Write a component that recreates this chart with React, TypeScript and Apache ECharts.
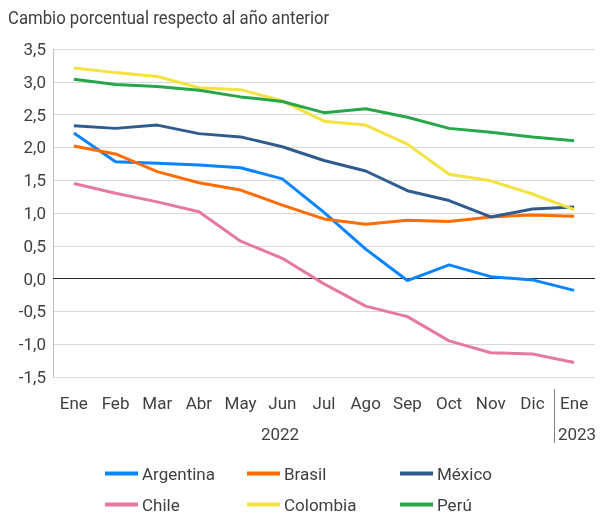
import React, { useEffect, useRef } from "react";
import * as echarts from "echarts";

const categories = ["Ene", "Feb", "Mar", "Abr", "May", "Jun", "Jul", "Ago", "Sep", "Oct", "Nov", "Dic", "Ene"];
const argentina = [2.22, 1.78, 1.76, 1.73, 1.69, 1.52, 1.01, 0.45, -0.03, 0.21, 0.03, -0.02, -0.18];
const brasil = [2.02, 1.9, 1.63, 1.46, 1.35, 1.12, 0.91, 0.83, 0.89, 0.87, 0.94, 0.97, 0.95];
const mexico = [2.33, 2.29, 2.34, 2.21, 2.16, 2.01, 1.8, 1.64, 1.34, 1.19, 0.94, 1.06, 1.09];
const chile = [1.45, 1.3, 1.17, 1.02, 0.57, 0.31, -0.08, -0.42, -0.58, -0.95, -1.13, -1.15, -1.28];
const colombia = [3.21, 3.14, 3.08, 2.91, 2.88, 2.71, 2.4, 2.34, 2.05, 1.59, 1.49, 1.29, 1.05];
const peru = [3.04, 2.96, 2.93, 2.87, 2.77, 2.7, 2.53, 2.59, 2.46, 2.29, 2.23, 2.16, 2.1];

const seriesNames = ["Argentina", "Brasil", "México", "Chile", "Colombia", "Perú"];
const seriesData = [argentina, brasil, mexico, chile, colombia, peru];
const colors = ["#0a85ff", "#ff6d00", "#2f5b8f", "#e67a9c", "#f3e23f", "#27a64a"];

const FONT = "Roboto";
const TEXT = "#404040";
const FS = 17;

export default function App() {
  const ref = useRef<HTMLDivElement>(null);
  useEffect(() => {
    if (!ref.current) return;
    const chart = echarts.init(ref.current, undefined, { renderer: "svg" });
    const legendPos = [
      [105, 465], [247, 465], [400, 465],
      [105, 496], [247, 496], [400, 496],
    ];
    chart.setOption({
      animation: false,
      grid: { left: 53, right: 8, top: 49, bottom: 137 },
      xAxis: {
        type: "category",
        data: categories,
        boundaryGap: true,
        axisLine: { show: false },
        axisTick: { show: false },
        axisLabel: { fontFamily: FONT, fontSize: FS, color: TEXT, margin: 17, interval: 0 },
      },
      yAxis: {
        type: "value",
        min: -1.5,
        max: 3.5,
        interval: 0.5,
        axisLine: { show: true, lineStyle: { color: "#bfbfbf", width: 1 } },
        axisTick: { show: false },
        splitLine: { lineStyle: { color: "#d9d9d9", width: 1 } },
        axisLabel: {
          fontFamily: FONT,
          fontSize: FS,
          color: TEXT,
          margin: 7,
          formatter: (v: number) => v.toFixed(1).replace(".", ","),
        },
      },
      legend: seriesNames.map((n, i) => ({
        data: [n],
        left: legendPos[i][0],
        top: legendPos[i][1],
        icon: "rect",
        itemWidth: 33,
        itemHeight: 4,
        itemGap: 4,
        padding: 0,
        textStyle: { fontFamily: FONT, fontSize: FS, color: TEXT, padding: [0, 0, 0, -1] },
      })),
      series: seriesNames.map((n, i) => ({
        name: n,
        type: "line",
        data: seriesData[i],
        symbol: "none",
        lineStyle: { width: 3, color: colors[i] },
        itemStyle: { color: colors[i] },
        z: 3 + i,
        markLine:
          i === 0
            ? {
                silent: true,
                symbol: "none",
                label: { show: false },
                lineStyle: { color: "#262626", width: 1, type: "solid" },
                data: [{ yAxis: 0 }],
                z: 1,
              }
            : undefined,
      })),
      graphic: [
        {
          type: "text",
          x: 8,
          y: 18,
          scaleX: 0.93,
          style: {
            text: "Cambio porcentual respecto al año anterior",
            fontFamily: FONT,
            fontSize: 18,
            fill: TEXT,
            verticalAlign: "middle",
          },
        },
        {
          type: "text",
          x: 280,
          y: 434,
          style: { text: "2022", fontFamily: FONT, fontSize: FS, fill: TEXT, align: "center", verticalAlign: "middle" },
        },
        {
          type: "text",
          x: 577,
          y: 434,
          style: { text: "2023", fontFamily: FONT, fontSize: FS, fill: TEXT, align: "center", verticalAlign: "middle" },
        },
        {
          type: "line",
          shape: { x1: 554.5, y1: 389, x2: 554.5, y2: 443 },
          style: { stroke: "#7f7f7f", lineWidth: 1 },
        },
      ],
    });
    return () => chart.dispose();
  }, []);
  return (
    <div
      ref={ref}
      style={{ position: "fixed", left: 0, top: 0, width: 603, height: 514 }}
    />
  );
}
